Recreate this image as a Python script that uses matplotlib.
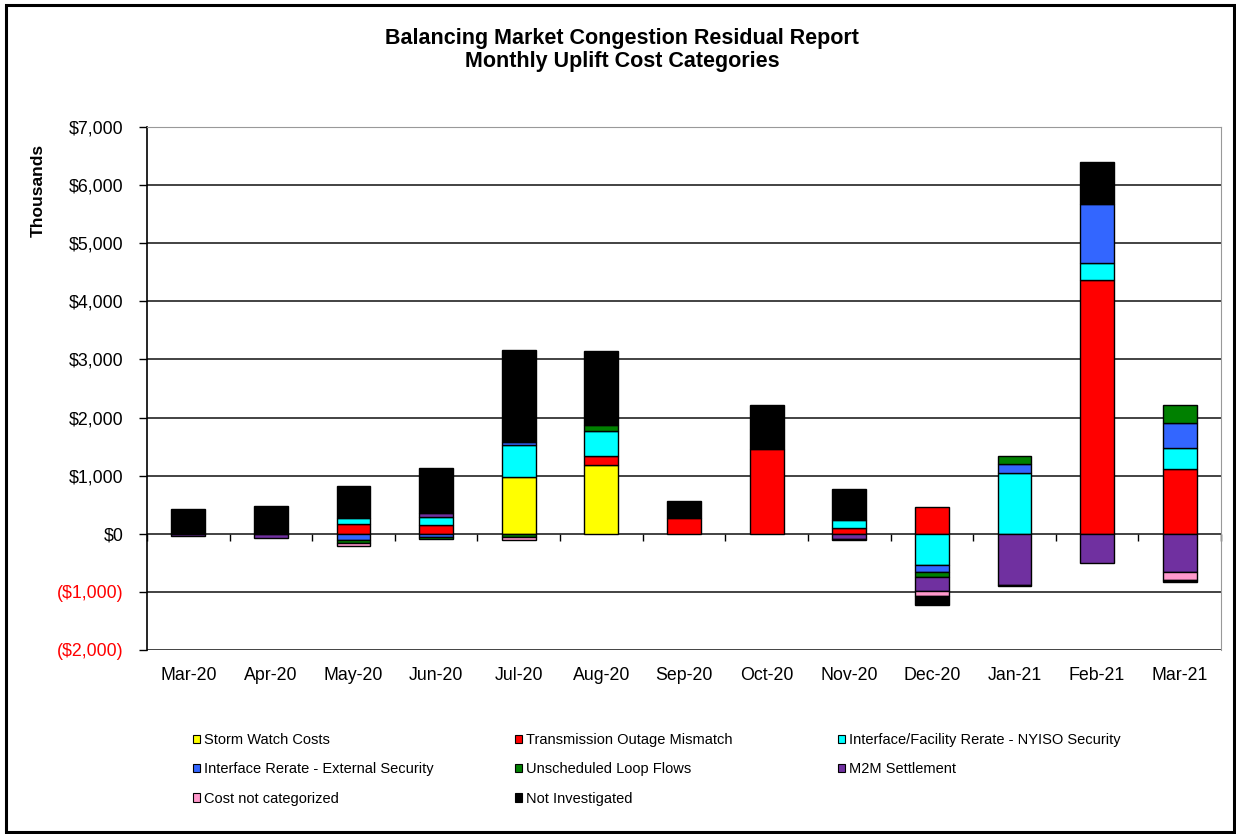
import numpy as np
import matplotlib
matplotlib.use('Agg')
import matplotlib.pyplot as plt
from matplotlib.patches import Patch, Rectangle

plt.rcParams['font.family'] = ['Liberation Sans', 'DejaVu Sans']

# monthly uplift by cost category, $ thousands
months = ['Mar-20', 'Apr-20', 'May-20', 'Jun-20', 'Jul-20', 'Aug-20', 'Sep-20',
          'Oct-20', 'Nov-20', 'Dec-20', 'Jan-21', 'Feb-21', 'Mar-21']
storm_watch = [0, 0, 0, 0, 980, 1190, 0, 0, 0, 0, 0, 0, 0]
transmission = [0, 0, 175, 150, 0, 140, 270, 1465, 105, 465, 0, 4375, 1115]
nyiso_security = [0, 0, 90, 140, 555, 440, 0, 0, 135, -540, 1045, 280, 355]
external_security = [0, 0, -110, -60, 40, 0, 0, 0, 0, -115, 160, 1025, 440]
loop_flows = [0, 0, -50, -35, -50, 100, 0, 0, 0, -95, 140, 0, 310]
m2m_settlement = [-40, -70, 0, 70, 0, 0, 0, 0, -85, -240, -875, -495, -665]
not_categorized = [0, 0, -55, 0, -65, 0, 0, 0, -20, -85, 0, 0, -135]
not_investigated = [430, 470, 560, 775, 1590, 1270, 290, 755, 535, -150, -30, 715, -30]

series = [
    ('Storm Watch Costs', storm_watch, '#FFFF00'),
    ('Transmission Outage Mismatch', transmission, '#FF0000'),
    ('Interface/Facility Rerate - NYISO Security', nyiso_security, '#00FFFF'),
    ('Interface Rerate - External Security', external_security, '#3366FF'),
    ('Unscheduled Loop Flows', loop_flows, '#008000'),
    ('M2M Settlement', m2m_settlement, '#7030A0'),
    ('Cost not categorized', not_categorized, '#FF99CC'),
    ('Not Investigated', not_investigated, '#000000'),
]

W, H = 1236, 834
fig = plt.figure(figsize=(W / 100, H / 100), dpi=100)
ax = fig.add_axes([147 / W, 1 - 650 / H, (1221 - 147) / W, (650 - 127) / H])

x = np.arange(len(months))
pos_base = np.zeros(len(months))
neg_base = np.zeros(len(months))
for label, vals, color in series:
    v = np.array(vals, dtype=float)
    bottom = np.where(v >= 0, pos_base, neg_base)
    m = v != 0
    ax.bar(x[m], v[m], 0.41, bottom=bottom[m], color=color,
           edgecolor='black', linewidth=1.0, zorder=3)
    pos_base += np.where(v > 0, v, 0)
    neg_base += np.where(v < 0, v, 0)

ax.set_xlim(-0.5, len(months) - 0.5)
ax.set_ylim(-2000, 7000)

yt = np.arange(-2000, 7001, 1000)
ylabels = [f'${v:,.0f}' if v >= 0 else f'(${-v:,.0f})' for v in yt]
ax.set_yticks(yt, ylabels)
for lab, v in zip(ax.get_yticklabels(), yt):
    if v < 0:
        lab.set_color('#FF0000')
ax.tick_params(axis='y', direction='out', length=6, width=1, pad=11, labelsize=12.8)

ax.set_xticks(x, months)
ax.tick_params(axis='x', length=0, pad=12, labelsize=12.8)

ax.yaxis.grid(True, color='#222222', linewidth=1.2)
ax.set_axisbelow(True)
ax.spines['bottom'].set_visible(False)
ax.spines['left'].set_linewidth(1.2)
ax.spines['right'].set_color('#999999')
ax.spines['top'].set_color('#999999')

# category separators on the zero line
sec = ax.secondary_xaxis(0, transform=ax.transData)
sec.set_xticks(np.arange(-0.5, len(months), 1))
sec.tick_params(direction='out', length=5, width=1, labelbottom=False)
sec.spines['bottom'].set_visible(False)

fig.text(38 / W, 1 - 190 / H, 'Thousands', rotation=90, fontsize=12.5,
         fontweight='bold', ha='center', va='center')
fig.text(622 / W, 1 - 50 / H,
         'Balancing Market Congestion Residual Report\nMonthly Uplift Cost Categories',
         ha='center', va='center', fontsize=15.5, fontweight='bold', linespacing=1.08)

# legend laid out row by row in three columns
columns = [[0, 3, 6], [1, 4, 7], [2, 5]]
col_x = [193, 515, 838]
for idx, cx in zip(columns, col_x):
    handles = [Patch(facecolor=series[i][2], edgecolor='black', linewidth=0.8) for i in idx]
    labels = [series[i][0] for i in idx]
    fig.legend(handles, labels, loc='upper left', bbox_to_anchor=(cx / W, 1 - 733 / H),
               frameon=False, fontsize=10.5, handlelength=0.5, handleheight=0.5,
               handletextpad=0.25, labelspacing=1.05, borderpad=0, borderaxespad=0)

fig.add_artist(Rectangle((5.5 / W, 2 / H), 1228 / W, 827 / H, transform=fig.transFigure,
                         fill=False, edgecolor='black', linewidth=2.2))

fig.savefig('out.png', dpi=100)
